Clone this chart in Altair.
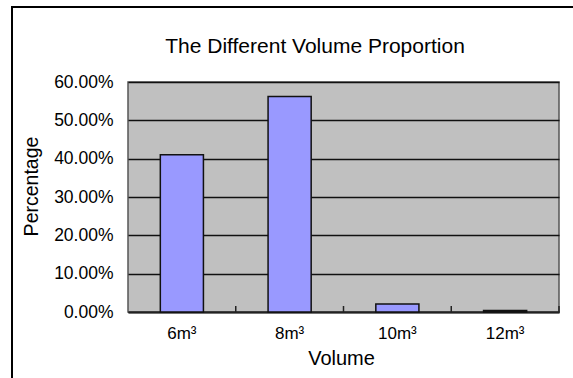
import altair as alt
import pandas as pd

categories = ["6m³", "8m³", "10m³", "12m³"]
percent = [0.410, 0.562, 0.021, 0.004]
y_ticks = [0, 0.1, 0.2, 0.3, 0.4, 0.5, 0.6]
chart_title = "The Different Volume Proportion"

df = pd.DataFrame({"cat": categories, "pct": percent})

FONT = "Liberation Sans"
W, H = 431, 230

xscale = alt.Scale(domain=categories, paddingInner=0.6, paddingOuter=0.3)
yscale = alt.Scale(domain=[0, 0.6], nice=False)

bars = alt.Chart(df).mark_bar(color="#9999ff", stroke="#111111", strokeWidth=1.5).encode(
    x=alt.X("cat:N", scale=xscale, sort=categories,
            axis=alt.Axis(title="Volume", labelAngle=0, ticks=False, labelPadding=13,
                          labelFontSize=17, labelFont=FONT, labelColor="#000",
                          titleFont=FONT, titleFontSize=20, titleFontWeight="normal",
                          titleColor="#000", titleX=213, titleY=52,
                          titleBaseline="alphabetic",
                          domainColor="#222", domainWidth=2, grid=False)),
    y=alt.Y("pct:Q", scale=yscale,
            axis=alt.Axis(title="Percentage", format=".2%", values=y_ticks,
                          ticks=False, domain=False, labelPadding=15,
                          labelFontSize=17.5, labelFont=FONT, labelColor="#000",
                          grid=True, gridColor="#111", gridWidth=1.5, gridOpacity=1,
                          titleFont=FONT, titleFontSize=19.5, titleFontWeight="normal",
                          titleColor="#000", titleAngle=270, titleX=-97, titleY=104,
                          titleAlign="center", titleBaseline="middle")),
)

ticks = alt.Chart(df).mark_rule(color="#222", strokeWidth=1.5).encode(
    x=alt.X("cat:N", scale=alt.Scale(domain=categories, paddingInner=0, paddingOuter=0),
            sort=categories, bandPosition=1, axis=None),
    y=alt.value(H - 6),
    y2=alt.value(H),
)

one = alt.Data(values=[{"t": chart_title}])
left_border = alt.Chart(one).mark_rule(color="#000", strokeWidth=2).encode(
    x=alt.value(-116), y=alt.value(-75), y2=alt.value(400)
)
top_border = alt.Chart(one).mark_rule(color="#000", strokeWidth=2).encode(
    x=alt.value(-117), x2=alt.value(460), y=alt.value(-75)
)
title = alt.Chart(one).mark_text(
    font=FONT, fontSize=21, color="#000", align="center", baseline="alphabetic"
).encode(
    text="t:N", x=alt.value(187), y=alt.value(-29)
)

chart = alt.layer(bars, ticks, left_border, top_border, title).resolve_scale(
    x="independent"
).properties(
    width=W,
    height=H,
    padding={"left": 128, "top": 82, "right": 14, "bottom": 66},
    autosize=alt.AutoSizeParams(type="none"),
    background="white",
).configure_view(
    fill="#c0c0c0", stroke="#555", strokeWidth=1.5
)

chart.save("out.html", embed_options={"renderer": "svg", "actions": False})
